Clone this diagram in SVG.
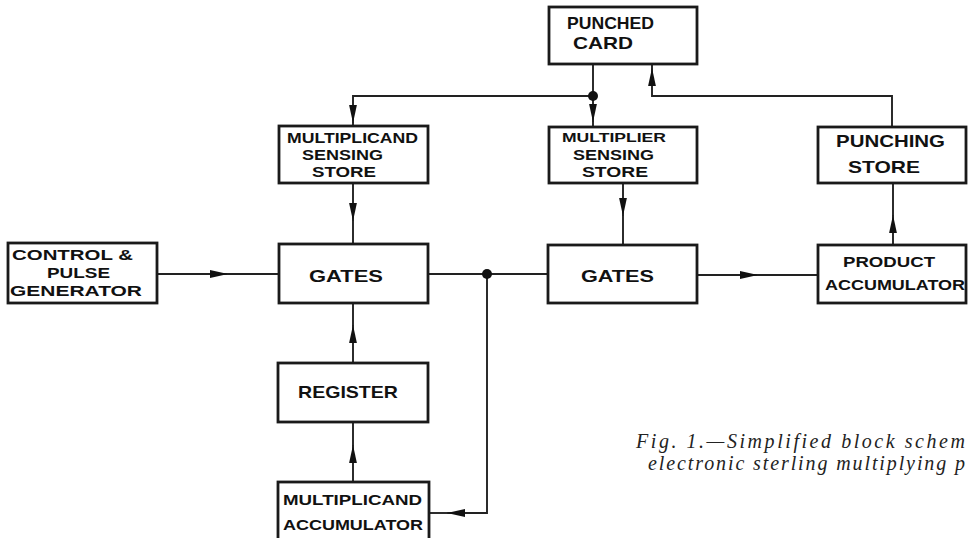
<svg xmlns="http://www.w3.org/2000/svg" width="969" height="538" viewBox="0 0 969 538">
<style>
.box{fill:#fff;stroke:#1a1a1a;stroke-width:2.8}
.lbl{font-family:"Liberation Sans",Arial,sans-serif;font-weight:bold;fill:#111;font-size:17px}
.sm{font-size:12px}
.md{font-size:15px}
.ln{fill:none;stroke:#222;stroke-width:1.9}
.ar{fill:none;stroke:#222;stroke-width:1.9;marker-end:url(#arr)}
.cap{font-family:"Liberation Serif","Times New Roman",serif;font-style:italic;font-size:20px;fill:#222}
</style>
<defs>
<marker id="arr" markerUnits="userSpaceOnUse" markerWidth="20" markerHeight="10" refX="18" refY="4.5" orient="auto">
<path d="M0,0.6 L18,4.5 L0,8.4 z" fill="#111"/>
</marker>
</defs>
<rect width="969" height="538" fill="#fff"/>
<g id="connectors">
<path class="ar" d="M593,64 V122"/>
<path class="ln" d="M593,121 V127"/>
<path class="ar" d="M593,96 H353 V123"/>
<path class="ln" d="M353,122 V126"/>
<path class="ar" d="M892,127 V96 H652 V68"/>
<path class="ln" d="M652,68 V64"/>
<path class="ar" d="M353,183 V221"/>
<path class="ln" d="M353,220 V244"/>
<path class="ar" d="M157,274 H228"/>
<path class="ln" d="M227,274 H279"/>
<path class="ln" d="M428,274 H548"/>
<path class="ar" d="M487,274 V513 H447"/>
<path class="ln" d="M448,513 H429"/>
<path class="ar" d="M353,363 V325"/>
<path class="ln" d="M353,326 V303"/>
<path class="ar" d="M353,482 V445"/>
<path class="ln" d="M353,446 V422"/>
<path class="ar" d="M623,183 V216"/>
<path class="ln" d="M623,215 V245"/>
<path class="ar" d="M697,275 H758"/>
<path class="ln" d="M757,275 H818"/>
<path class="ar" d="M893,245 V215"/>
<path class="ln" d="M893,216 V183"/>
<circle cx="593" cy="96" r="5" fill="#111"/>
<circle cx="487" cy="274" r="5" fill="#111"/>
</g>
<g id="punched-card">
<rect class="box" x="549" y="7" width="148" height="57"/>
<text class="lbl" x="567" y="29" textLength="87" lengthAdjust="spacingAndGlyphs">PUNCHED</text>
<text class="lbl" x="573" y="49" textLength="60" lengthAdjust="spacingAndGlyphs">CARD</text>
</g>
<g id="multiplicand-sensing-store">
<rect class="box" x="279" y="126" width="149" height="57"/>
<text class="lbl md" x="287" y="143" textLength="131" lengthAdjust="spacingAndGlyphs">MULTIPLICAND</text>
<text class="lbl md" x="302" y="160" textLength="81" lengthAdjust="spacingAndGlyphs">SENSING</text>
<text class="lbl md" x="312" y="177" textLength="64" lengthAdjust="spacingAndGlyphs">STORE</text>
</g>
<g id="multiplier-sensing-store">
<rect class="box" x="549" y="127" width="148" height="56"/>
<text class="lbl sm" x="562" y="142" textLength="104" lengthAdjust="spacingAndGlyphs">MULTIPLIER</text>
<text class="lbl md" x="573" y="160" textLength="81" lengthAdjust="spacingAndGlyphs">SENSING</text>
<text class="lbl md" x="582" y="177" textLength="66" lengthAdjust="spacingAndGlyphs">STORE</text>
</g>
<g id="punching-store">
<rect class="box" x="818" y="127" width="148" height="56"/>
<text class="lbl" x="836" y="147" textLength="109" lengthAdjust="spacingAndGlyphs">PUNCHING</text>
<text class="lbl" x="848" y="173" textLength="72" lengthAdjust="spacingAndGlyphs">STORE</text>
</g>
<g id="control-pulse-generator">
<rect class="box" x="8" y="243" width="149" height="60"/>
<text class="lbl md" x="12" y="260" textLength="121" lengthAdjust="spacingAndGlyphs">CONTROL &amp;</text>
<text class="lbl md" x="47" y="278" textLength="63" lengthAdjust="spacingAndGlyphs">PULSE</text>
<text class="lbl md" x="10" y="296" textLength="132" lengthAdjust="spacingAndGlyphs">GENERATOR</text>
</g>
<g id="gates-1">
<rect class="box" x="279" y="244" width="149" height="59"/>
<text class="lbl" x="309" y="282" textLength="74" lengthAdjust="spacingAndGlyphs">GATES</text>
</g>
<g id="gates-2">
<rect class="box" x="548" y="245" width="149" height="58"/>
<text class="lbl" x="581" y="282" textLength="73" lengthAdjust="spacingAndGlyphs">GATES</text>
</g>
<g id="product-accumulator">
<rect class="box" x="818" y="245" width="148" height="58"/>
<text class="lbl md" x="843" y="267" textLength="92" lengthAdjust="spacingAndGlyphs">PRODUCT</text>
<text class="lbl md" x="825" y="290" textLength="140" lengthAdjust="spacingAndGlyphs">ACCUMULATOR</text>
</g>
<g id="register">
<rect class="box" x="278" y="363" width="150" height="59"/>
<text class="lbl" x="298" y="398" textLength="100" lengthAdjust="spacingAndGlyphs">REGISTER</text>
</g>
<g id="multiplicand-accumulator">
<rect class="box" x="278" y="482" width="151" height="62"/>
<text class="lbl md" x="283" y="505" textLength="139" lengthAdjust="spacingAndGlyphs">MULTIPLICAND</text>
<text class="lbl md" x="283" y="530" textLength="140" lengthAdjust="spacingAndGlyphs">ACCUMULATOR</text>
</g>
<g id="caption">
<text class="cap" x="636" y="448" textLength="329" lengthAdjust="spacing">Fig. 1.—Simplified block schem</text>
<text class="cap" x="648" y="470" textLength="317" lengthAdjust="spacing">electronic sterling multiplying p</text>
</g>
</svg>
